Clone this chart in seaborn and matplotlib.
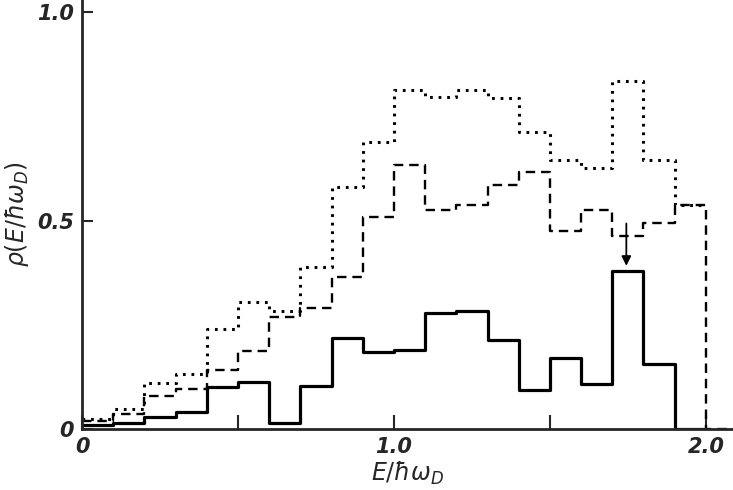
import numpy as np
import pandas as pd
import matplotlib
matplotlib.use("Agg")
import matplotlib.pyplot as plt
import seaborn as sns

# bin centres of the histograms (E / hbar omega_D), bin width 0.1
# (last bin 2.0-2.1 is empty so the dashed outline closes down to zero)
centers = np.round(np.arange(0.05, 2.1, 0.1), 2)

# values, one per bin
solid = [0.01, 0.015, 0.03, 0.04, 0.10, 0.113, 0.014, 0.104, 0.218, 0.185,
         0.19, 0.278, 0.283, 0.213, 0.094, 0.171, 0.108, 0.38, 0.156, 0.0, 0.0]
dashed = [0.02, 0.036, 0.08, 0.095, 0.141, 0.188, 0.27, 0.29, 0.364, 0.509,
          0.635, 0.525, 0.537, 0.585, 0.617, 0.475, 0.525, 0.464, 0.494, 0.537, 0.0]
dotted = [0.024, 0.048, 0.111, 0.131, 0.24, 0.304, 0.284, 0.39, 0.581, 0.689,
          0.815, 0.797, 0.815, 0.795, 0.712, 0.647, 0.626, 0.835, 0.647, 0.537, 0.0]

df = pd.DataFrame({"E": centers, "solid": solid, "dashed": dashed, "dotted": dotted})

sns.set_style("ticks")
plt.rcParams["font.family"] = ["DejaVu Sans"]

fig = plt.figure(figsize=(7.33, 4.90), dpi=100)
ax = fig.add_axes([0.112, 0.1245, 0.888, 0.8755])

hist_kw = dict(x="E", binwidth=0.1, element="step", fill=False, color="black", ax=ax)
# dotted curve stops at 2.0 where it joins the dashed one
sns.histplot(data=df[df["E"] < 2.0], weights="dotted", binrange=(0, 2.0),
             linewidth=2.2, linestyle=(0, (0.9, 1.9)), **hist_kw)
sns.histplot(data=df, weights="dashed", binrange=(0, 2.1),
             linewidth=1.7, linestyle=(0, (4, 2.5)), **hist_kw)
sns.histplot(data=df[df["E"] < 2.0], weights="solid", binrange=(0, 2.0),
             linewidth=2.3, **hist_kw)

# arrow marking the peak
ax.annotate("", xy=(1.745, 0.385), xytext=(1.745, 0.50),
            arrowprops=dict(arrowstyle="-|>", color="black", lw=1.3,
                            mutation_scale=14))

ax.set_xlim(0, 2.087)
ax.set_ylim(0, 1.03)
sns.despine(ax=ax)
for s in ("left", "bottom"):
    ax.spines[s].set_linewidth(2)

ax.set_xticks([0, 0.5, 1.0, 1.5, 2.0])
ax.set_xticklabels(["0", "", "1.0", "", "2.0"])
ax.set_yticks([0, 0.5, 1.0])
ax.set_yticklabels(["0", "0.5", "1.0"])
ax.tick_params(direction="in", length=10, width=1.5, labelsize=15, pad=6)
ax.tick_params(axis="y", length=8, pad=6)
for lab in ax.get_xticklabels() + ax.get_yticklabels():
    lab.set_fontstyle("italic")
    lab.set_fontweight("semibold")

ax.set_xlabel(r"$E/\hbar\omega_D$", fontsize=17, labelpad=2)
ax.set_ylabel(r"$\rho(E/\hbar\omega_D)$", fontsize=17, labelpad=4)

fig.savefig("out.png", dpi=100)
